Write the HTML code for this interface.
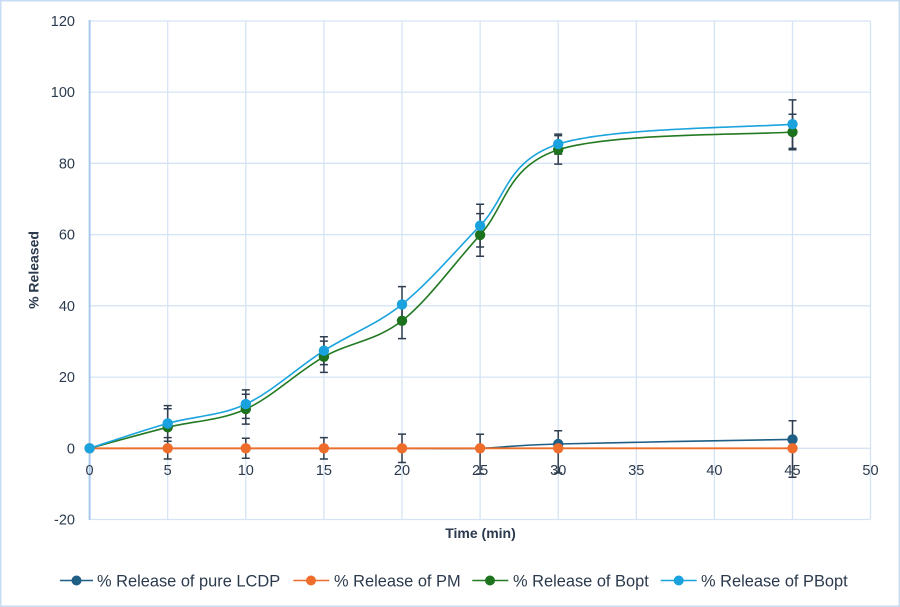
<!DOCTYPE html>
<html>
<head>
<meta charset="utf-8">
<style>
html,body{margin:0;padding:0;background:#fff;}
svg{display:block;}
text{font-family:"Liberation Sans",Arial,sans-serif;fill:#2b3a4d;}
</style>
</head>
<body>
<svg width="900" height="607" viewBox="0 0 900 607" xmlns="http://www.w3.org/2000/svg">
<rect x="0.75" y="0.75" width="898.5" height="605.5" fill="#fff" stroke="#c8dcf2" stroke-width="1.5"/>

<!-- gridlines horizontal -->
<g stroke="#d5e4f5" stroke-width="1.3">
<line x1="89.6" y1="21" x2="870.5" y2="21"/>
<line x1="89.6" y1="92.1" x2="870.5" y2="92.1"/>
<line x1="89.6" y1="163.3" x2="870.5" y2="163.3"/>
<line x1="89.6" y1="234.6" x2="870.5" y2="234.6"/>
<line x1="89.6" y1="305.8" x2="870.5" y2="305.8"/>
<line x1="89.6" y1="377.1" x2="870.5" y2="377.1"/>
<line x1="89.6" y1="448.3" x2="870.5" y2="448.3"/>
<line x1="89.6" y1="519.5" x2="870.5" y2="519.5"/>
<!-- vertical -->
<line x1="167.7" y1="21" x2="167.7" y2="519.5"/>
<line x1="245.8" y1="21" x2="245.8" y2="519.5"/>
<line x1="323.9" y1="21" x2="323.9" y2="519.5"/>
<line x1="402" y1="21" x2="402" y2="519.5"/>
<line x1="480.1" y1="21" x2="480.1" y2="519.5"/>
<line x1="558.2" y1="21" x2="558.2" y2="519.5"/>
<line x1="636.3" y1="21" x2="636.3" y2="519.5"/>
<line x1="714.4" y1="21" x2="714.4" y2="519.5"/>
<line x1="792.5" y1="21" x2="792.5" y2="519.5"/>
<line x1="870.5" y1="21" x2="870.5" y2="519.5"/>
</g>
<line x1="89.6" y1="20" x2="89.6" y2="520" stroke="#a9c9ec" stroke-width="2"/>

<!-- y tick labels -->
<g font-size="14.5" text-anchor="end">
<text x="75" y="26">120</text>
<text x="75" y="97">100</text>
<text x="75" y="168.5">80</text>
<text x="75" y="239.7">60</text>
<text x="75" y="311">40</text>
<text x="75" y="382.2">20</text>
<text x="75" y="453.5">0</text>
<text x="75" y="524.7">-20</text>
</g>

<!-- series lines -->
<path d="M89.6,448.3 L402,448.3 C428.03,448.3 454.07,449.02 480.1,448.3 C506.13,447.58 506.13,445.48 558.2,444.0 C610.27,442.52 753.45,440.17 792.5,439.4" fill="none" stroke="#1f5f85" stroke-width="1.6"/>
<line x1="89.6" y1="448.3" x2="792.5" y2="448.3" stroke="#ef6d2b" stroke-width="1.8"/>
<path d="M89.6,448.3 C102.6,444.8 141.67,433.83 167.7,427.3 C193.73,420.77 219.77,420.85 245.8,409.1 C271.83,397.35 297.87,371.52 323.9,356.8 C349.93,342.08 375.97,341.12 402,320.8 C428.03,300.48 454.07,263.4 480.1,234.9 C506.13,206.4 506.13,166.95 558.2,149.8 C610.27,132.65 753.45,134.97 792.5,132.0" fill="none" stroke="#237a22" stroke-width="1.6"/>
<path d="M89.6,448.3 C102.6,444.15 141.67,430.77 167.7,423.4 C193.73,416.03 219.77,416.22 245.8,404.1 C271.83,391.98 297.87,367.32 323.9,350.7 C349.93,334.08 375.97,325.23 402,304.4 C428.03,283.57 454.07,252.42 480.1,225.7 C506.13,198.98 506.13,161.02 558.2,144.1 C610.27,127.18 753.45,127.52 792.5,124.2" fill="none" stroke="#1aa3dd" stroke-width="1.6"/>

<!-- error bars -->
<g stroke="#2e3d4f" stroke-width="1.5" fill="none">
<!-- PM -->
<path d="M167.7,437.6V459 M163.7,437.6h8 M163.7,459h8"/>
<path d="M245.8,438.3V458.3 M241.8,438.3h8 M241.8,458.3h8"/>
<path d="M323.9,437.6V459 M319.9,437.6h8 M319.9,459h8"/>
<path d="M402,434.1V462.5 M398,434.1h8 M398,462.5h8"/>
<path d="M480.1,434.3V474 M476.1,434.3h8 M476.1,474h8"/>
<path d="M558.2,430.7V473 M554.2,430.7h8 M554.2,473h8"/>
<path d="M792.5,420.7V477.3 M788.5,420.7h8 M788.5,477.3h8"/>
<!-- Bopt -->
<path d="M167.7,408.8V445.8 M163.7,408.8h8 M163.7,445.8h8"/>
<path d="M245.8,394.2V424.1 M241.8,394.2h8 M241.8,424.1h8"/>
<path d="M323.9,341.1V372.4 M319.9,341.1h8 M319.9,372.4h8"/>
<path d="M402,303V338.6 M398,303h8 M398,338.6h8"/>
<path d="M480.1,213.6V256.3 M476.1,213.6h8 M476.1,256.3h8"/>
<path d="M558.2,135.6V164.1 M554.2,135.6h8 M554.2,164.1h8"/>
<path d="M792.5,114.2V149.8 M788.5,114.2h8 M788.5,149.8h8"/>
<!-- PBopt -->
<path d="M167.7,405.6V441.2 M163.7,405.6h8 M163.7,441.2h8"/>
<path d="M245.8,389.9V418.4 M241.8,389.9h8 M241.8,418.4h8"/>
<path d="M323.9,336.8V364.6 M319.9,336.8h8 M319.9,364.6h8"/>
<path d="M402,286.6V322.2 M398,286.6h8 M398,322.2h8"/>
<path d="M480.1,204.3V247 M476.1,204.3h8 M476.1,247h8"/>
<path d="M558.2,134.1V154.1 M554.2,134.1h8 M554.2,154.1h8"/>
<path d="M792.5,99.9V148.4 M788.5,99.9h8 M788.5,148.4h8"/>
</g>

<!-- markers -->
<g fill="#1f5f85">
<circle cx="558.2" cy="444.0" r="5.2"/>
<circle cx="792.5" cy="439.4" r="5.2"/>
</g>
<g fill="#ef6d2b">
<circle cx="89.6" cy="448.3" r="5.2"/>
<circle cx="167.7" cy="448.3" r="5.2"/>
<circle cx="245.8" cy="448.3" r="5.2"/>
<circle cx="323.9" cy="448.3" r="5.2"/>
<circle cx="402" cy="448.3" r="5.2"/>
<circle cx="480.1" cy="448.3" r="5.2"/>
<circle cx="558.2" cy="448.3" r="5.2"/>
<circle cx="792.5" cy="448.3" r="5.2"/>
</g>
<g fill="#1d731d">
<circle cx="167.7" cy="427.3" r="5.2"/>
<circle cx="245.8" cy="409.1" r="5.2"/>
<circle cx="323.9" cy="356.8" r="5.2"/>
<circle cx="402" cy="320.8" r="5.2"/>
<circle cx="480.1" cy="234.9" r="5.2"/>
<circle cx="558.2" cy="149.8" r="5.2"/>
<circle cx="792.5" cy="132.0" r="5.2"/>
</g>
<g fill="#19a2de">
<circle cx="89.6" cy="448.3" r="5.2"/>
<circle cx="167.7" cy="423.4" r="5.2"/>
<circle cx="245.8" cy="404.1" r="5.2"/>
<circle cx="323.9" cy="350.7" r="5.2"/>
<circle cx="402" cy="304.4" r="5.2"/>
<circle cx="480.1" cy="225.7" r="5.2"/>
<circle cx="558.2" cy="144.1" r="5.2"/>
<circle cx="792.5" cy="124.2" r="5.2"/>
</g>

<!-- x tick labels -->
<g font-size="14.5" text-anchor="middle">
<text x="89.6" y="475">0</text>
<text x="167.7" y="475">5</text>
<text x="245.8" y="475">10</text>
<text x="323.9" y="475">15</text>
<text x="402" y="475">20</text>
<text x="480.1" y="475">25</text>
<text x="558.2" y="475">30</text>
<text x="636.3" y="475">35</text>
<text x="714.4" y="475">40</text>
<text x="792.5" y="475">45</text>
<text x="870.5" y="475">50</text>
</g>

<!-- axis titles -->
<text x="480.5" y="538" font-size="14" font-weight="bold" text-anchor="middle">Time (min)</text>
<text transform="translate(38.5,270) rotate(-90)" font-size="14" font-weight="bold" text-anchor="middle">% Released</text>

<!-- legend -->
<g font-size="16.4">
<line x1="60" y1="580.5" x2="93" y2="580.5" stroke="#1f5f85" stroke-width="1.6"/>
<circle cx="76.5" cy="580.5" r="5" fill="#1f5f85"/>
<text x="97" y="586.5">% Release of pure LCDP</text>
<line x1="293.3" y1="580.5" x2="329.3" y2="580.5" stroke="#ef6d2b" stroke-width="1.6"/>
<circle cx="311" cy="580.5" r="5" fill="#ef6d2b"/>
<text x="334" y="586.5">% Release of PM</text>
<line x1="472.3" y1="580.5" x2="508.3" y2="580.5" stroke="#237a22" stroke-width="1.6"/>
<circle cx="490" cy="580.5" r="5" fill="#1d731d"/>
<text x="513" y="586.5">% Release of Bopt</text>
<line x1="660.7" y1="580.5" x2="696.7" y2="580.5" stroke="#1aa3dd" stroke-width="1.6"/>
<circle cx="678.7" cy="580.5" r="5" fill="#19a2de"/>
<text x="701" y="586.5">% Release of PBopt</text>
</g>
</svg>
</body>
</html>
